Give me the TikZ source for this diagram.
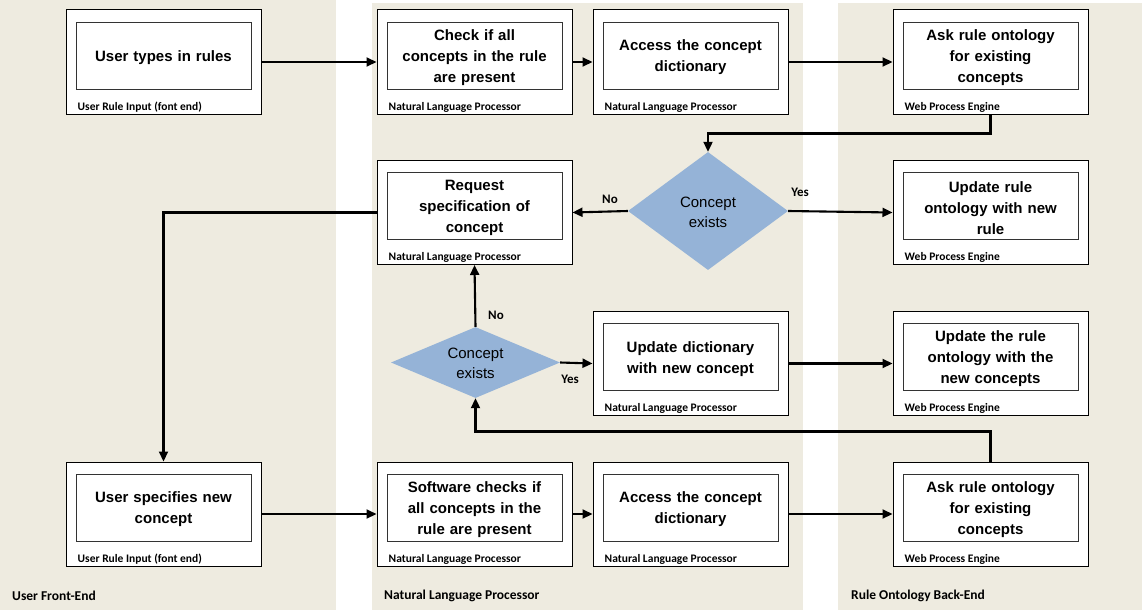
\documentclass[tikz,border=0pt]{standalone}
\usepackage{fontspec}
\setmainfont{Liberation Sans}
\newfontfamily\calib{Carlito}
\usetikzlibrary{shapes.geometric,arrows.meta}
\definecolor{lanebg}{RGB}{238,235,224}
\definecolor{diafill}{RGB}{149,179,215}
\tikzset{
  outerbox/.style={draw=black, fill=white, line width=1pt, minimum width=195pt, minimum height=104pt, inner sep=0pt},
  innerbox/.style={draw=black!80, line width=0.9pt, minimum width=175pt, minimum height=67pt, inner sep=0pt},
  boxtext/.style={inner sep=0pt, text width=172pt, align=center, font=\bfseries\fontsize{15}{21}\selectfont},
  sublabel/.style={anchor=west, inner sep=0pt, font=\calib\bfseries\fontsize{11.5}{13}\selectfont},
  lanelabel/.style={anchor=west, inner sep=0pt, font=\calib\bfseries\fontsize{13.5}{15}\selectfont},
  yn/.style={inner sep=0pt, font=\calib\bfseries\fontsize{13}{15}\selectfont},
  decision/.style={shape=diamond, fill=diafill, draw=none, inner sep=0pt},
  dtext/.style={inner sep=0pt, align=center, font=\fontsize{15}{20}\selectfont},
  conn/.style={line width=2.1pt, -{Triangle[length=10pt,width=9pt]}},
}
% #1 name, #2 centre x, #3 top y, #4 text, #5 label
\newcommand{\pbox}[5]{%
  \node[outerbox] (#1) at (#2,#3+52) {};
  \node[innerbox] (#1-in) at (#2,#3+45.5) {};
  \node[boxtext] (#1-tx) at (#2,#3+47.5) {#4};
  \node[sublabel] (#1-lb) at (#2-86,#3+97) {#5};
}
\begin{document}
\begin{tikzpicture}[x=1pt,y=-1pt]
\useasboundingbox (0,0) rectangle (1142,610);
% lanes
\fill[lanebg] (0,0) rectangle (336,610);
\fill[lanebg] (372,3) rectangle (803,610);
\fill[lanebg] (838,3) rectangle (1142,610);
\node[lanelabel] (lane1) at (12,596) {User Front-End};
\node[lanelabel] (lane2) at (384,596) {Natural Language Processor};
\node[lanelabel] (lane3) at (851,596) {Rule Ontology Back-End};

% row 1
\pbox{u1}{163.5}{10}{User types in rules}{User Rule Input (font end)}
\pbox{c1}{474.5}{10}{Check if all\\concepts in the rule\\are present}{Natural Language Processor}
\pbox{a1}{690.5}{10}{Access the concept\\dictionary}{Natural Language Processor}
\pbox{k1}{990.5}{10}{Ask rule ontology\\for existing\\concepts}{Web Process Engine}

% row 2
\pbox{rq}{474.5}{160.5}{Request\\specification of\\concept}{Natural Language Processor}
\node[decision, minimum width=160pt, minimum height=118pt] (d1) at (708,211) {};
\node[dtext] (d1-t) at (708,212) {Concept\\exists};
\pbox{ur}{990.5}{160.5}{Update rule\\ontology with new\\rule}{Web Process Engine}

% row 3
\node[decision, minimum width=169pt, minimum height=71pt] (d2) at (475.5,362.5) {};
\node[dtext] (d2-t) at (475.5,363.5) {Concept\\exists};
\pbox{ud}{690.5}{311.5}{Update dictionary\\with new concept}{Natural Language Processor}
\pbox{uo}{990.5}{311.5}{Update the rule\\ontology with the\\new concepts}{Web Process Engine}

% row 4
\pbox{u2}{163.5}{462}{User specifies new\\concept}{User Rule Input (font end)}
\pbox{c2}{474.5}{462}{Software checks if\\all concepts in the\\rule are present}{Natural Language Processor}
\pbox{a2}{690.5}{462}{Access the concept\\dictionary}{Natural Language Processor}
\pbox{k2}{990.5}{462}{Ask rule ontology\\for existing\\concepts}{Web Process Engine}

% connectors row 1
\draw[conn] (u1.east) -- (c1.west);
\draw[conn] (c1.east) -- (a1.west);
\draw[conn] (a1.east) -- (k1.west);
\draw[conn] (k1.south) -- ++(0,19) -| (d1.north);
% decision 1
\draw[conn] (d1.west) -- (rq.east);
\node[yn] (no1) at (610,199) {No};
\draw[conn] (d1.east) -- (ur.west);
\node[yn] (yes1) at (800,192) {Yes};
% request -> user specifies
\draw[conn] (rq.west) -| (u2.north);
% row 4
\draw[conn] (u2.east) -- (c2.west);
\draw[conn] (c2.east) -- (a2.west);
\draw[conn] (a2.east) -- (k2.west);
\draw[conn] (k2.north) -- ++(0,-30) -| (d2.south);
% decision 2
\draw[conn] (d2.north) -- (rq.south);
\node[yn] (no2) at (496,315) {No};
\draw[conn] (d2.east) -- (ud.west);
\node[yn] (yes2) at (570,379) {Yes};
\draw[conn] (ud.east) -- (uo.west);
\end{tikzpicture}
\end{document}
